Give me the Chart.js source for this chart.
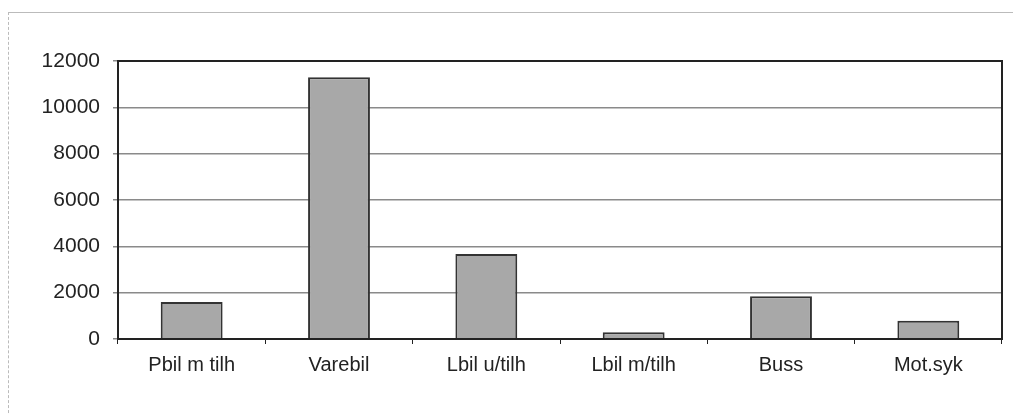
<!DOCTYPE html>
<html>
<head>
<meta charset="utf-8">
<script src="https://cdn.jsdelivr.net/npm/chart.js@4"></script>
<style>
  html, body { margin: 0; padding: 0; background: #fff; }
  #frame {
    position: absolute; left: 8px; top: 12px; width: 1010px; height: 410px;
    border-left: 1px dashed #bbb; border-top: 1px solid #bbb;
  }
  #wrap { position: absolute; left: 0; top: 0; width: 1013px; height: 414px; }
</style>
</head>
<body>
<div id="frame"></div>
<div id="wrap"><canvas id="myChart"></canvas></div>
<script>
document.addEventListener("DOMContentLoaded", function () {

    const labels = ["Pbil m tilh", "Varebil", "Lbil u/tilh", "Lbil m/tilh", "Buss", "Mot.syk"];
    const values = [1600, 11300, 3670, 290, 1840, 790];
    const yTicks = [0, 2000, 4000, 6000, 8000, 10000, 12000];

    // plot area box (top + right sides, Excel style)
    const boxPlugin = {
        id: 'box',
        afterDraw(chart) {
            const a = chart.chartArea, ctx = chart.ctx;
            ctx.save();
            ctx.strokeStyle = '#222';
            ctx.lineWidth = 2;
            ctx.strokeRect(a.left, a.top, a.right - a.left, a.bottom - a.top);
            ctx.restore();
        }
    };

    const data = {
        labels: labels,
        datasets: [{
            data: values,
            backgroundColor: '#a8a8a8',
            borderColor: '#333',
            borderWidth: 2,
            barPercentage: 0.84,
            categoryPercentage: 0.5
        }]
    };

    const config = {
        type: 'bar',
        data: data,
        plugins: [boxPlugin],
        options: {
            responsive: true,
            maintainAspectRatio: false,
            animation: false,
            layout: { padding: { top: 61, right: 11, left: 0, bottom: 0 } },
            plugins: {
                legend: { display: false },
                tooltip: { enabled: false }
            },
            scales: {
                x: {
                    grid: {
                        offset: true,
                        drawOnChartArea: false,
                        tickLength: 5,
                        color: '#222'
                    },
                    border: { display: true, color: '#222', width: 2 },
                    ticks: {
                        color: '#222',
                        padding: 9,
                        maxRotation: 0,
                        font: { family: 'Liberation Sans, Arial', size: 20 }
                    },
                    afterFit(scale) { scale.height = 75; }
                },
                y: {
                    min: 0,
                    max: 12000,
                    afterBuildTicks(scale) { scale.ticks = yTicks.map(v => ({ value: v })); },
                    grid: {
                        color: '#8a8a8a',
                        lineWidth: 1.5,
                        tickLength: 5
                    },
                    border: { display: true, color: '#222', width: 2 },
                    ticks: {
                        color: '#222',
                        padding: 13,
                        font: { family: 'Liberation Sans, Arial', size: 21 },
                        callback: (v) => String(v)
                    },
                    afterFit(scale) { scale.width = 118; }
                }
            }
        }
    };

    new Chart(document.getElementById('myChart'), config);
});
</script>
</body>
</html>
